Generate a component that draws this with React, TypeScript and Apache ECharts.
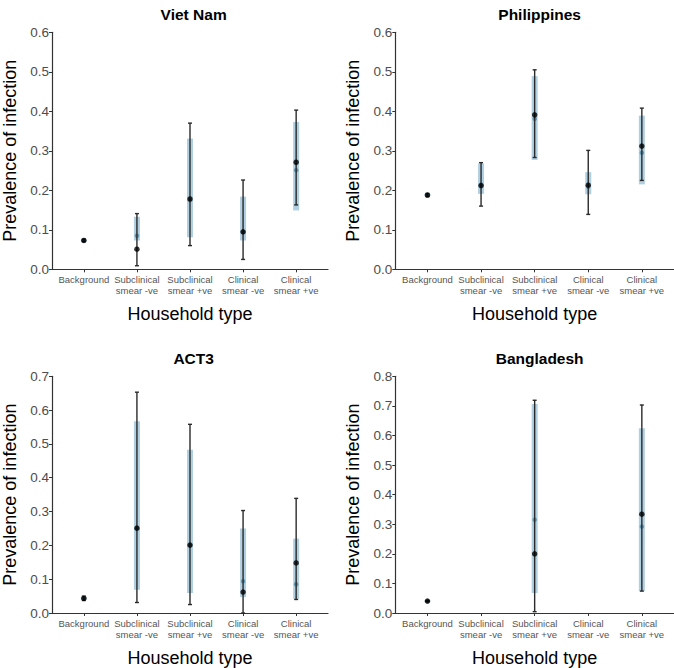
import React, { useEffect, useRef } from "react";
import * as echarts from "echarts";

const categories = ["Background", "Subclinical\nsmear -ve", "Subclinical\nsmear +ve", "Clinical\nsmear -ve", "Clinical\nsmear +ve"];
const panelTitles = ["Viet Nam", "Philippines", "ACT3", "Bangladesh"];
const yMaxes = [0.6, 0.6, 0.7, 0.8];

// Viet Nam
const vnModelLow = [0.071, 0.073, 0.081, 0.073, 0.149];
const vnModelHigh = [0.075, 0.133, 0.331, 0.184, 0.373];
const vnModelMid = [0.073, 0.085, 0.175, 0.094, 0.251];
const vnObs = [0.073, 0.051, 0.178, 0.095, 0.271];
const vnObsLow = [0.070, 0.009, 0.060, 0.025, 0.163];
const vnObsHigh = [0.076, 0.141, 0.370, 0.226, 0.403];

// Philippines
const phModelLow = [0.186, 0.191, 0.277, 0.190, 0.215];
const phModelHigh = [0.191, 0.268, 0.489, 0.246, 0.389];
const phModelMid = [0.188, 0.214, 0.381, 0.209, 0.295];
const phObs = [0.188, 0.212, 0.391, 0.213, 0.312];
const phObsLow = [0.184, 0.160, 0.283, 0.139, 0.225];
const phObsHigh = [0.192, 0.270, 0.505, 0.301, 0.408];

// ACT3
const actModelLow = [0.040, 0.069, 0.059, 0.047, 0.042];
const actModelHigh = [0.048, 0.567, 0.483, 0.250, 0.220];
const actModelMid = [0.044, 0.250, 0.200, 0.094, 0.085];
const actObs = [0.043, 0.251, 0.201, 0.062, 0.148];
const actObsLow = [0.037, 0.031, 0.025, 0.0, 0.040];
const actObsHigh = [0.050, 0.653, 0.558, 0.303, 0.339];

// Bangladesh
const bdModelLow = [0.038, null, 0.0675, null, 0.074];
const bdModelHigh = [0.042, null, 0.706, null, 0.624];
const bdModelMid = [0.040, null, 0.315, null, 0.292];
const bdObs = [0.0405, null, 0.200, null, 0.334];
const bdObsLow = [0.039, null, 0.0045, null, 0.074];
const bdObsHigh = [0.042, null, 0.719, null, 0.703];

const panels = [
  { modelLow: vnModelLow, modelHigh: vnModelHigh, modelMid: vnModelMid, obs: vnObs, obsLow: vnObsLow, obsHigh: vnObsHigh },
  { modelLow: phModelLow, modelHigh: phModelHigh, modelMid: phModelMid, obs: phObs, obsLow: phObsLow, obsHigh: phObsHigh },
  { modelLow: actModelLow, modelHigh: actModelHigh, modelMid: actModelMid, obs: actObs, obsLow: actObsLow, obsHigh: actObsHigh },
  { modelLow: bdModelLow, modelHigh: bdModelHigh, modelMid: bdModelMid, obs: bdObs, obsLow: bdObsLow, obsHigh: bdObsHigh },
];

const FONT = "Liberation Sans, Arial, Helvetica, sans-serif";

export default function App() {
  const ref = useRef<HTMLDivElement>(null);
  useEffect(() => {
    if (!ref.current) return;
    const chart = echarts.init(ref.current, null, { renderer: "svg" });
    const gridPos = [
      { left: 49.3, top: 32.3 },
      { left: 395.3, top: 32.3 },
      { left: 49.3, top: 376.3 },
      { left: 395.3, top: 376.3 },
    ];
    const W = 278.7;
    const H = 237;
    const grids = gridPos.map((g) => ({ left: g.left, top: g.top, width: W, height: H, containLabel: false }));
    const titles = gridPos.map((g, i) => ({
      text: panelTitles[i],
      left: g.left + W / 2,
      top: g.top - 31,
      textAlign: "center",
      textStyle: { fontFamily: FONT, fontSize: 15.5, fontWeight: "bold", color: "#000" },
    }));
    const xAxes = gridPos.map((_, i) => ({
      type: "value",
      gridIndex: i,
      min: -0.6,
      max: 4.6,
      name: "Household type",
      nameLocation: "middle",
      nameGap: 36,
      nameTextStyle: { fontFamily: FONT, fontSize: 18, color: "#000" },
      splitLine: { show: false },
      axisLine: { show: true, onZero: false, lineStyle: { color: "#333", width: 1.2 } },
      axisTick: { show: true, length: 3, customValues: [0, 1, 2, 3, 4], lineStyle: { color: "#333" } },
      axisLabel: {
        customValues: [0, 1, 2, 3, 4],
        formatter: (v: number) => categories[Math.round(v)] ?? "",
        fontFamily: FONT,
        fontSize: 9.5,
        lineHeight: 11,
        color: "#555",
        margin: 5,
      },
    }));
    const yAxes = gridPos.map((_, i) => ({
      type: "value",
      gridIndex: i,
      min: 0,
      max: yMaxes[i],
      interval: 0.1,
      name: "Prevalence of infection",
      nameLocation: "middle",
      nameGap: 33,
      nameTextStyle: { fontFamily: FONT, fontSize: 18, color: "#000" },
      splitLine: { show: false },
      axisLine: { show: true, onZero: false, lineStyle: { color: "#333", width: 1.2 } },
      axisTick: { show: true, length: 3, lineStyle: { color: "#333" } },
      axisLabel: {
        formatter: (v: number) => v.toFixed(1),
        fontFamily: FONT,
        fontSize: 13.5,
        color: "#4d4d4d",
        margin: 3,
      },
    }));

    const series: any[] = [];
    panels.forEach((p, i) => {
      const bandData: any[] = [];
      const midData: any[] = [];
      const errData: any[] = [];
      const obsData: any[] = [];
      for (let k = 0; k < categories.length; k++) {
        if (p.modelLow[k] != null && p.modelHigh[k] != null) bandData.push([k, p.modelLow[k], p.modelHigh[k]]);
        if (p.modelMid[k] != null) midData.push([k, p.modelMid[k]]);
        if (p.obsLow[k] != null && p.obsHigh[k] != null) errData.push([k, p.obsLow[k], p.obsHigh[k]]);
        if (p.obs[k] != null) obsData.push([k, p.obs[k]]);
      }
      series.push({
        type: "custom",
        xAxisIndex: i,
        yAxisIndex: i,
        data: bandData,
        encode: { x: 0, y: [1, 2] },
        renderItem: (params: any, api: any) => {
          const x = api.value(0);
          const a = api.coord([x, api.value(2)]);
          const b = api.coord([x, api.value(1)]);
          return {
            type: "rect",
            shape: { x: a[0] - 3, y: a[1], width: 6, height: Math.max(b[1] - a[1], 0.5) },
            style: { fill: "#b0cfe0" },
          };
        },
        z: 1,
      });
      series.push({
        type: "scatter",
        xAxisIndex: i,
        yAxisIndex: i,
        data: midData,
        symbolSize: 4.5,
        itemStyle: { color: "#4f8aa8" },
        z: 2,
      });
      series.push({
        type: "custom",
        xAxisIndex: i,
        yAxisIndex: i,
        data: errData,
        encode: { x: 0, y: [1, 2] },
        renderItem: (params: any, api: any) => {
          const x = api.value(0);
          const a = api.coord([x, api.value(2)]);
          const b = api.coord([x, api.value(1)]);
          const st = { stroke: "#2a2a2a", lineWidth: 1.4 };
          return {
            type: "group",
            children: [
              { type: "line", shape: { x1: a[0], y1: a[1], x2: b[0], y2: b[1] }, style: st },
              { type: "line", shape: { x1: a[0] - 2, y1: a[1], x2: a[0] + 2, y2: a[1] }, style: st },
              { type: "line", shape: { x1: b[0] - 2, y1: b[1], x2: b[0] + 2, y2: b[1] }, style: st },
            ],
          };
        },
        z: 3,
      });
      series.push({
        type: "scatter",
        xAxisIndex: i,
        yAxisIndex: i,
        data: obsData,
        symbolSize: 5.5,
        itemStyle: { color: "#000" },
        z: 4,
      });
    });

    chart.setOption({
      animation: false,
      backgroundColor: "#fff",
      title: titles,
      grid: grids,
      xAxis: xAxes,
      yAxis: yAxes,
      series,
    });
    return () => chart.dispose();
  }, []);
  return <div ref={ref} style={{ position: "fixed", left: 0, top: 0, width: 674, height: 668 }} />;
}
